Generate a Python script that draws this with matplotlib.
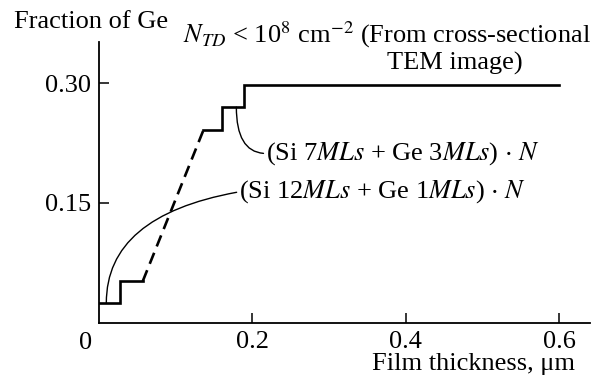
import numpy as np
import matplotlib
matplotlib.use('Agg')
import matplotlib.pyplot as plt

plt.rcParams['font.family'] = ['Liberation Serif', 'DejaVu Serif']
plt.rcParams['mathtext.fontset'] = 'stix'
plt.rcParams['font.size'] = 19

# Ge fraction profile, staircase with a graded (dashed) part
step1_x = [0.0, 0.027, 0.027, 0.057]
step1_y = [0.025, 0.025, 0.052, 0.052]
grade_x = [0.057, 0.136]
grade_y = [0.052, 0.241]
step2_x = [0.136, 0.160, 0.160, 0.189, 0.189, 0.60]
step2_y = [0.241, 0.241, 0.270, 0.270, 0.298, 0.298]

xticks = [0.2, 0.4, 0.6]
xticklabels = ['0.2', '0.4', '0.6']
yticks = [0.15, 0.30]
yticklabels = ['0.15', '0.30']

fig = plt.figure(figsize=(5.98, 3.84), dpi=100)
ax = fig.add_axes([0.1656, 0.1596, 0.821, 0.7318])

ax.plot(step1_x, step1_y, color='black', lw=1.9, solid_joinstyle='miter')
ax.plot(grade_x, grade_y, color='black', lw=1.9, dashes=(4.5, 2.6))
ax.plot(step2_x, step2_y, color='black', lw=1.9, solid_joinstyle='miter')

ax.set_xlim(0, 0.64)
ax.set_ylim(0, 0.352)
ax.spines['top'].set_visible(False)
ax.spines['right'].set_visible(False)
for s in ['left', 'bottom']:
    ax.spines[s].set_linewidth(1.3)

ax.set_xticks(xticks)
ax.set_xticklabels(xticklabels)
ax.set_yticks(yticks)
ax.set_yticklabels(yticklabels)
ax.tick_params(direction='in', length=7, width=1.1, labelsize=19)
ax.tick_params(axis='x', pad=6)
ax.tick_params(axis='y', pad=6)

# leader curves to the labels
ax.annotate(r'(Si 12$MLs$ + Ge 1$MLs$) $\cdot$ $N$', xy=(0.0095, 0.025),
            xytext=(0.183, 0.164), ha='left', va='center',
            arrowprops=dict(arrowstyle='-', lw=1.0, color='black',
                            connectionstyle='angle3,angleA=10,angleB=90',
                            relpos=(0, 0.5), shrinkA=0, shrinkB=0))
ax.annotate(r'(Si 7$MLs$ + Ge 3$MLs$) $\cdot$ $N$', xy=(0.179, 0.270),
            xytext=(0.218, 0.212), ha='left', va='center',
            arrowprops=dict(arrowstyle='-', lw=1.0, color='black',
                            connectionstyle='angle3,angleA=0,angleB=90',
                            relpos=(0, 0.5), shrinkA=0, shrinkB=0))

fig.text(14/598, 1 - 22/384, 'Fraction of Ge', ha='left', va='center')
fig.text(183/598, 1 - 35/384,
         r'$N_{TD}$ < 10$^8$ cm$^{-2}$ (From cross-sectional',
         ha='left', va='center')
fig.text(455/598, 1 - 63/384, 'TEM image)', ha='center', va='center')
fig.text(86/598, 1 - 343/384, '0', ha='center', va='center')
fig.text(575/598, 1 - 364/384, 'Film thickness, μm', ha='right', va='center')

fig.savefig('out.png', dpi=100)
